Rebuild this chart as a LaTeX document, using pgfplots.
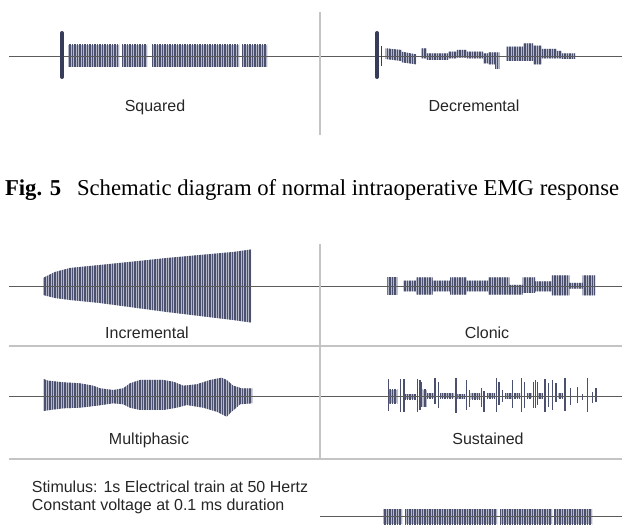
\documentclass[border=0pt]{standalone}
\usepackage{pgfplots}
\pgfplotsset{compat=1.18}
\usepackage{fontspec}
\setmainfont{Liberation Sans}
\newfontfamily\capfont{Liberation Serif}
\usetikzlibrary{patterns.meta}

\definecolor{stripe}{HTML}{4A506E}
\definecolor{stripebg}{HTML}{B4B8C8}
\definecolor{stim}{HTML}{363C5A}
\definecolor{baseln}{HTML}{5C5C5C}
\definecolor{divln}{HTML}{C4C4C4}

\pgfplotsset{
  emg/.style={draw=none, fill=stripebg,
    postaction={pattern={Lines[angle=90,distance=2.5pt,line width=1.5pt]}, pattern color=stripe}},
  base/.style={baseln, line width=1.3pt},
  divider/.style={divln, line width=1.4pt},
}
% one rectangular block of stripes: x from, x to, top, bottom (pixels, y down)
\newcommand\emgbox[4]{\addplot[emg] coordinates {(#1,#3)(#2,#3)(#2,#4)(#1,#4)};}
\newcommand\lab[3]{\node[anchor=base, font=\fontsize{16}{19}\selectfont, text=black!85] at (axis cs:#1,#2) {#3};}

\begin{document}
\begin{tikzpicture}
\begin{axis}[
  scale only axis, width=625pt, height=532pt,
  xmin=0, xmax=625, ymin=0, ymax=532, y dir=reverse,
  hide axis, clip=false,
]
\addplot[draw=none] coordinates {(0,0) (625,532)};

% ---- Fig. 5: squared and decremental
\emgbox{68}{119}{45}{67}
\emgbox{122}{147}{45}{67}
\emgbox{152}{239}{45}{67}
\emgbox{242}{267}{45}{67}

\addplot[emg] coordinates {(385.7,48.3)(401.7,50)(401.7,51.7)(416,54.3)
  (416,64.3)(401.7,62.3)(401.7,61)(385.7,59)};
\addplot[emg] coordinates {(421,48.3)(426.7,48.3)(426.7,53.3)(448.3,53.3)(448.3,51.7)(456.7,51.7)
  (456.7,50)(466.7,50)(466.7,51.7)(483.3,51.7)(483.3,53.3)(488.3,53.3)(488.3,52.3)(499.3,52.3)
  (499.3,69)(495,69)(495,64.3)(488.3,64.3)(488.3,63.3)(483.3,63.3)(483.3,58.3)(466.7,58.3)
  (466.7,57.7)(456.7,57.7)(456.7,58.3)(448.3,58.3)(448.3,60)(426.7,60)(426.7,58.3)(421,58.3)};
\addplot[emg] coordinates {(506,46.7)(523.3,46.7)(523.3,43.3)(533.3,43.3)(533.3,45.7)(541.7,45.7)
  (541.7,49)(556.7,49)(556.7,51)(561.7,51)(561.7,53.3)(575,53.3)
  (575,59)(561.7,59)(561.7,58.3)(541.7,58.3)(541.7,64.3)(533.3,64.3)(533.3,61)(506,61)};

\addplot[base] coordinates {(9,56.5) (622,56.5)};
\addplot[stim, line width=4pt, line cap=round] coordinates {(62,33) (62,77)};
\addplot[stim, line width=4pt, line cap=round] coordinates {(377,33) (377,77)};
\addplot[stim, line width=1.8pt] coordinates {(381.5,46) (381.5,66)};
\addplot[divider] coordinates {(320,12) (320,135)};

\lab{155}{112}{Squared}
\lab{474}{112}{Decremental}

\node[anchor=base west, font=\capfont\fontsize{22.7}{26}\selectfont] at (axis cs:1.5,196)
  {\textbf{Fig. 5}\hspace{0.7em}Schematic diagram of normal intraoperative EMG response};

% ---- lower panel
% incremental
\addplot[emg] coordinates {(43,278)(47,276)(55,272)(70,268)(100,265)(167,258)(233,252)(251,249.5)
  (251,322.5)(233,320)(167,312)(100,303)(70,300)(55,298)(43,295)};
% multiphasic
\addplot[emg] coordinates {(43.3,379)(48.3,380.7)(63.3,382.3)(80,383.3)(93.3,385.7)(100,388.3)
  (113.3,390)(123.3,388.3)(130,383.3)(140,380)(163.3,380)(173.3,381.7)(183.3,385.7)(196.7,384.3)
  (210,380)(221.7,377.7)(226.7,380)(233.3,385.7)(241.7,388.3)(252.7,388.3)
  (252.7,403.3)(240,404.3)(230,413.3)(226.7,416.7)(223.3,415)(216.7,411.7)(203.3,407.7)
  (186.7,405)(176.7,407.7)(163.3,410)(140,410)(130,407.7)(123.3,404.3)(113.3,403.3)(96.7,405.7)
  (80,407.7)(63.3,408.3)(50,410)(43.3,411)};
% clonic
\emgbox{387.3}{397.3}{277.3}{294.7}
\addplot[emg] coordinates {(403.3,280.7)(416,280.7)(416,277.3)(432.7,277.3)(432.7,280.7)(450,280.7)
  (450,277.3)(466.7,277.3)(466.7,280.7)(488.3,280.7)(488.3,277.3)(509.3,277.3)(509.3,285)(522.7,285)
  (522.7,277.3)(535,277.3)(535,281.3)(551.7,281.3)(551.7,275.3)(569.3,275.3)(569.3,283)(582.7,283)
  (582.7,275.3)(595,275.3)
  (595,295.3)(582.7,295.3)(582.7,288.7)(569.3,288.7)(569.3,295.3)(551.7,295.3)(551.7,291.3)
  (535,291.3)(535,293)(522.7,293)(522.7,294.7)(488.3,294.7)(488.3,291.3)(466.7,291.3)(466.7,294.7)
  (450,294.7)(450,291.3)(432.7,291.3)(432.7,294.7)(416,294.7)(416,291.3)(403.3,291.3)};
% sustained: low trains between the spikes
\emgbox{389.3}{397.3}{390}{403.3}
\emgbox{405}{416}{394.3}{399.3}
\emgbox{422.7}{426.7}{390}{406.7}
\emgbox{426.7}{434}{393.3}{398.3}
\emgbox{440}{454}{393.3}{398.3}
\emgbox{457.3}{465}{394.3}{399}
\emgbox{470.7}{480}{393.3}{399.3}
\emgbox{486.7}{495}{393.3}{398.3}
\emgbox{505}{511.7}{393.3}{399}
\emgbox{514}{520}{393.3}{398.3}
\emgbox{526.7}{531.7}{393.3}{398.3}
\emgbox{536.7}{543.3}{393.3}{399}
\emgbox{558.3}{563.3}{393.3}{398.3}
% sustained: spikes (x, top, length downwards)
\addplot[stripe, line width=1.5pt, -, quiver={u=0, v=\thisrow{l}}] table[x=x, y=t] {
x t l
388.3 379 32
400.7 379 32.7
404 379 32.7
417.3 379 32.7
420 380 30
421.7 382 24.7
435 378.3 26
438.3 382.3 25.4
456 378.3 35
466.7 380 30
469.3 390 16.7
481.7 388.3 18.4
484 391 20.7
496.7 378.3 33.4
499 381.7 23.3
502.7 390 11.7
512.7 380 28.3
521.7 378.3 33.4
524.3 381.7 26.6
533.3 381.7 26.6
535.3 380 28.3
537.3 382 23
545 379 32.7
548.3 383.3 23.4
552.7 380 30
556 383.3 18.4
565 378.3 32.7
570.7 388.3 16.7
577.3 386.7 16.6
582.3 394.3 5.7
587.3 377.7 34
592.3 392.3 11
596 388.3 14
};
% stimulus train
\emgbox{383}{402}{509}{524}
\emgbox{405}{497}{509}{524}
\emgbox{500}{552}{509}{524}
\emgbox{554}{592}{509}{524}

\addplot[base] coordinates {(9,286.5) (622,286.5)};
\addplot[base] coordinates {(9,396.2) (622,396.2)};
\addplot[base] coordinates {(320,516.3) (622,516.3)};
\addplot[divider] coordinates {(320,244) (320,459)};
\addplot[divider] coordinates {(9,346) (622,346)};
\addplot[divider] coordinates {(9,459) (622,459)};

\lab{147}{339}{Incremental}
\lab{487}{338.3}{Clonic}
\lab{149}{445}{Multiphasic}
\lab{488}{445}{Sustained}
\node[anchor=base west, align=left, font=\fontsize{16}{17.5}\selectfont, text=black!85]
  at (axis cs:28.3,510) {Stimulus: 1s Electrical train at 50 Hertz\\Constant voltage at 0.1 ms duration};
\end{axis}
\end{tikzpicture}
\end{document}
